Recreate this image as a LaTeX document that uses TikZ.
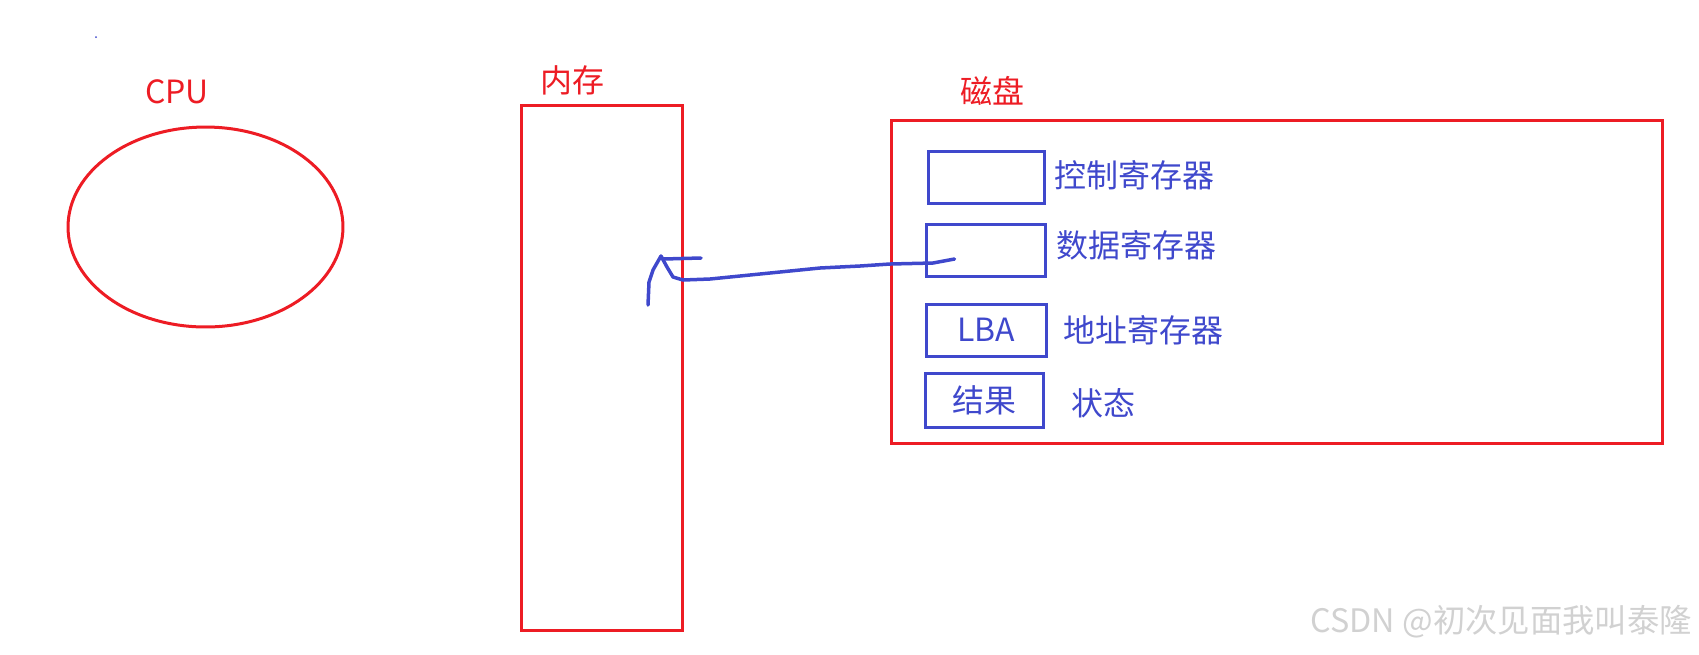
\documentclass[tikz,border=0pt]{standalone}
\usepackage{fontspec}
\setmainfont{Noto Sans CJK SC}
\usepackage{xcolor}
\definecolor{mred}{HTML}{ED1C24}
\definecolor{mblue}{HTML}{3F48CC}
\usetikzlibrary{shapes.geometric,positioning,calc}

\begin{document}
\begin{tikzpicture}[x=0.02cm,y=-0.02cm,
    redpart/.style={draw=mred, line width=0.06cm},
    redlabel/.style={text=mred, font=\fontsize{18.2}{20}\selectfont, inner sep=0pt},
    regbox/.style={draw=mblue, line width=0.06cm, minimum height=1.04cm, inner sep=0pt,
        text=mblue, font=\fontsize{18.2}{20}\selectfont},
    reglabel/.style={text=mblue, font=\fontsize{18.2}{20}\selectfont, inner sep=0pt, anchor=west},
    pen/.style={draw=mblue, line width=0.07cm, line cap=round, line join=round}]
    \useasboundingbox (0,0) rectangle (1699,654);

    % CPU
    \node[redpart, ellipse, minimum width=5.5cm, minimum height=4cm] (cpu) at (205.5,227) {};
    \node[redlabel] (cpulabel) at (177,92) {CPU};

    % Memory
    \node[redpart, rectangle, minimum width=3.24cm, minimum height=10.52cm] (mem) at (602,368) {};
    \node[redlabel] (memlabel) at (572,80) {内存};

    % Disk
    \node[redpart, rectangle, minimum width=15.44cm, minimum height=6.48cm] (disk) at (1277,282) {};
    \node[redlabel] (disklabel) at (992,91) {磁盘};

    % Registers
    \node[regbox, minimum width=2.32cm] (ctrl) at (986,177.5) {};
    \node[regbox, minimum width=2.38cm] (data) at (985.5,250) {};
    \node[regbox, minimum width=2.40cm] (addr) at (986,330) {LBA};
    \node[regbox, minimum width=2.36cm, minimum height=1.08cm] (stat) at (984,400) {结果};
    \node[reglabel] (ctrllabel) at (1054,175) {控制寄存器};
    \node[reglabel] (datalabel) at (1056,245) {数据寄存器};
    \node[reglabel] (addrlabel) at (1063,330) {地址寄存器};
    \node[reglabel] (statlabel) at (1071,403) {状态};

    % Transfer (hand drawn)
    \coordinate (tail) at ($(data.west)+(30,9)$);
    \coordinate (tip) at (661,256);
    \draw[pen] (tail) -- (933,263) -- (890,264) -- (860,266) -- (820,268) -- (780,272)
        -- (740,276) -- (710,279) -- (683,280) -- (673,277) -- (667,267) -- (tip);
    \draw[pen] (tip) -- (653,270) -- (649,282) -- (648,305);
    \draw[pen] (663,259) -- (701,258);

    % Stray dot
    \fill[mblue] (96,37) circle (0.02cm);

    % Watermark
    \node[text=black!18, font=\fontsize{18.4}{20}\selectfont, inner sep=0pt, anchor=east] (mark) at (1692,622) {CSDN @初次见面我叫泰隆};
\end{tikzpicture}
\end{document}
